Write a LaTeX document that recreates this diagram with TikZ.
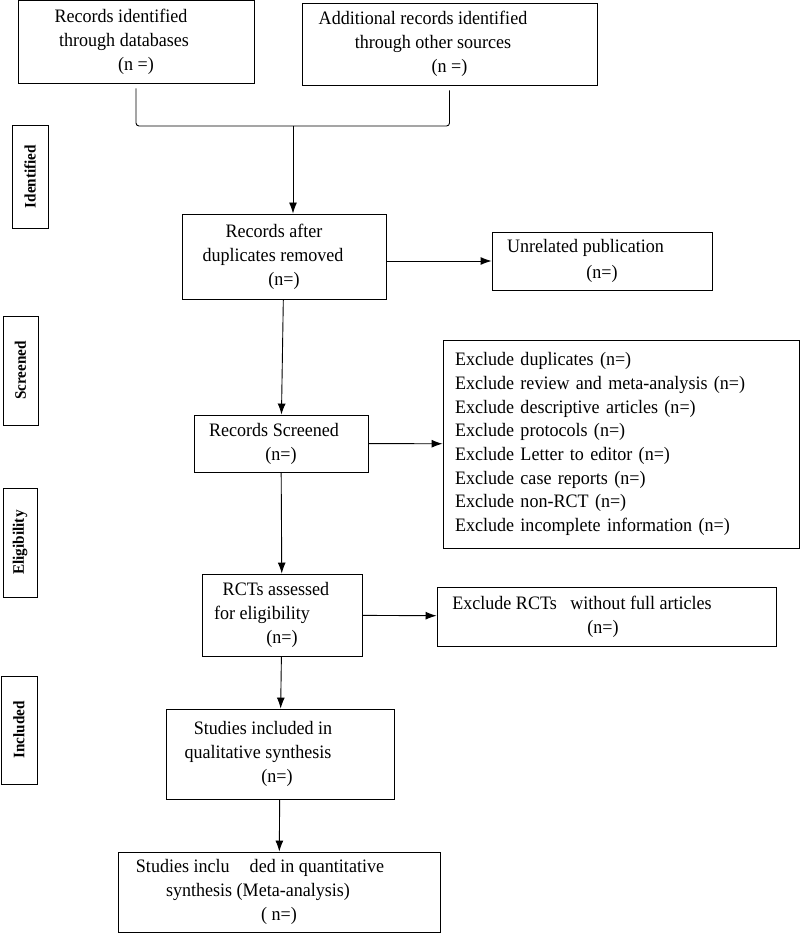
\documentclass[tikz,border=0pt]{standalone}
\usepackage{fontspec}
\setmainfont{Liberation Serif}[FakeStretch=0.95]
\usetikzlibrary{arrows.meta}
\newcommand{\lpad}[1]{\hbox to #1pt{}}

\begin{document}
\begin{tikzpicture}
  [x=1pt,y=-1pt,>={Latex[length=11pt,width=8pt]},
   every node/.style={draw,line width=0.9pt,inner sep=0pt,align=center,
     font=\fontsize{19}{24}\selectfont},
   stage/.style={rotate=90,font=\fontsize{16}{18}\selectfont\bfseries}]
  \useasboundingbox (0,0) rectangle (800,933);

  % phase labels
  \node[stage,minimum width=103pt,minimum height=36pt] (ident) at (30,176.5) {Identified};
  \node[stage,minimum width=109pt,minimum height=35pt] (scr) at (20.5,370.5) {Screened};
  \node[stage,minimum width=109pt,minimum height=34pt] (elig) at (20,542.5) {Eligibility};
  \node[stage,minimum width=108pt,minimum height=36pt] (incl) at (19,730) {Included};

  % main boxes
  \node[minimum width=236pt,minimum height=83pt] (dbase) at (136,41.5)
    {Records identified\lpad{30}\\through databases\lpad{24}\\(n =)};
  \node[minimum width=295pt,minimum height=82pt] (other) at (449.5,44)
    {Additional records identified\lpad{53}\\through other sources\lpad{33}\\(n =)};
  \node[minimum width=204pt,minimum height=85pt] (after) at (284,256.5)
    {Records after\lpad{20}\\duplicates removed\lpad{22}\\(n=)};
  \node[minimum width=220pt,minimum height=58pt,font=\fontsize{19}{26}\selectfont] (unrel) at (602,261)
    {Unrelated publication\lpad{33}\\(n=)};
  \node[minimum width=174pt,minimum height=57pt] (screen) at (281,443.5)
    {Records Screened\lpad{14}\\(n=)};
  \node[minimum height=208pt,text width=332pt,inner xsep=12pt,align=left,
    font=\fontsize{19}{23.7}\selectfont] (excl) at (621,444)
    {Exclude duplicates (n=)\\
     Exclude review and meta-analysis (n=)\\
     Exclude descriptive articles (n=)\\
     Exclude protocols (n=)\\
     Exclude Letter to editor (n=)\\
     Exclude case reports (n=)\\
     Exclude non-RCT (n=)\\
     Exclude incomplete information (n=)};
  \node[minimum width=160pt,minimum height=82pt] (rct) at (282,615)
    {RCTs assessed\lpad{12}\\for eligibility\lpad{40}\\(n=)};
  \node[minimum width=339pt,minimum height=59pt] (exrct) at (606.5,616.5)
    {Exclude RCTs~~ without full articles\lpad{49}\\(n=)\lpad{7}};
  \node[minimum width=228pt,minimum height=90pt] (qual) at (280,754)
    {Studies included in\lpad{34}\\qualitative synthesis\lpad{44}\\(n=)\lpad{6}};
  \node[minimum width=322pt,minimum height=80pt] (quant) at (279,892)
    {Studies inclu\hspace{20pt}ded in quantitative\lpad{38}\\synthesis (Meta-analysis)\lpad{42}\\( n=)};

  % joining the two sources
  \coordinate (join) at (293,126);
  \draw[line width=0.9pt,rounded corners=3pt] ([yshift=-5pt]dbase.south) |- (join)
    -| ([yshift=-5pt]other.south);
  \draw[line width=0.9pt,->] (join) -- (join |- after.north);
  \draw[line width=0.9pt,->] (after.east |- unrel) -- (unrel.west);

  \foreach \from/\to in {after/screen,screen/rct,rct/qual,qual/quant,screen/excl,rct/exrct}
    \draw[line width=0.9pt,->] (\from) -- (\to);

\end{tikzpicture}
\end{document}
